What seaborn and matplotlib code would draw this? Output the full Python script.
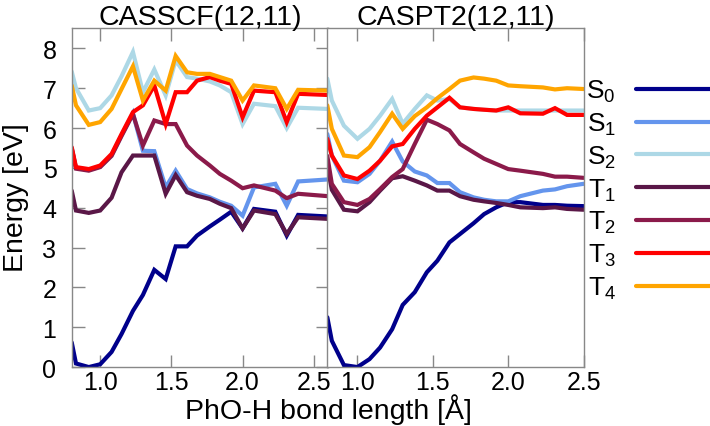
import numpy as np
import pandas as pd
import matplotlib
matplotlib.use("Agg")
import matplotlib.pyplot as plt
from matplotlib.lines import Line2D
import seaborn as sns

sns.set_style("ticks")
plt.rcParams['font.family'] = ['Liberation Sans', 'DejaVu Sans']
plt.rcParams['mathtext.default'] = 'regular'
plt.rcParams['text.color'] = 'black'

states = ['S0', 'S1', 'S2', 'T1', 'T2', 'T3', 'T4']
labels = ['S$_0$', 'S$_1$', 'S$_2$', 'T$_1$', 'T$_2$', 'T$_3$', 'T$_4$']
colors = ['#00008b', '#6495ed', '#add8e6', '#5a1747', '#8b1a4a', '#ff0000', '#ffa500']

# CASSCF(12,11) panel
r_scf = [0.80, 0.83, 0.92, 1.00, 1.08, 1.15, 1.23, 1.30, 1.38, 1.46, 1.53,
         1.61, 1.68, 1.77, 1.84, 1.92, 2.00, 2.08, 2.23, 2.31, 2.39, 2.60]
scf_S0 = [0.62, 0.09, 0.00, 0.07, 0.38, 0.83, 1.41, 1.81, 2.44, 2.21, 3.03,
          3.03, 3.30, 3.53, 3.70, 3.90, 3.48, 3.97, 3.90, 3.30, 3.82, 3.78]
scf_S1 = [5.50, 5.00, 4.95, 5.03, 5.32, 5.82, 6.37, 5.43, 5.42, 4.51, 4.93,
          4.47, 4.36, 4.26, 4.15, 4.05, 3.80, 4.51, 4.60, 4.05, 4.66, 4.71]
scf_S2 = [7.42, 7.00, 6.44, 6.50, 6.82, 7.30, 7.91, 6.90, 7.47, 6.82, 7.70,
          7.28, 7.24, 7.17, 7.07, 6.90, 6.10, 6.61, 6.55, 6.00, 6.51, 6.48]
scf_T1 = [4.43, 3.93, 3.87, 3.93, 4.25, 4.89, 5.31, 5.31, 5.31, 4.35, 4.82,
          4.39, 4.30, 4.22, 4.10, 3.99, 3.48, 3.93, 3.84, 3.34, 3.76, 3.72]
scf_T2 = [5.48, 4.98, 4.93, 5.02, 5.30, 5.80, 6.35, 5.56, 6.19, 6.10, 6.10,
          5.56, 5.31, 5.06, 4.85, 4.68, 4.49, 4.56, 4.43, 4.24, 4.35, 4.29]
scf_T3 = [5.52, 5.02, 4.97, 5.06, 5.35, 5.85, 6.40, 6.57, 7.07, 6.10, 6.90,
          6.90, 7.19, 7.28, 7.19, 7.11, 6.27, 6.94, 6.90, 6.15, 6.86, 6.83]
scf_T4 = [7.07, 6.57, 6.08, 6.15, 6.48, 6.98, 7.55, 6.69, 7.19, 6.94, 7.81,
          7.40, 7.36, 7.36, 7.28, 7.19, 6.69, 7.07, 7.00, 6.48, 6.96, 6.94]

# CASPT2(12,11) panel
r_pt2 = [0.80, 0.83, 0.91, 1.00, 1.08, 1.15, 1.23, 1.30, 1.38, 1.46, 1.53,
         1.61, 1.68, 1.77, 1.84, 1.92, 2.00, 2.08, 2.23, 2.31, 2.39, 2.50]
pt2_S0 = [1.25, 0.66, 0.05, 0.00, 0.20, 0.49, 0.95, 1.56, 1.88, 2.38, 2.67,
          3.13, 3.34, 3.61, 3.84, 4.01, 4.14, 4.14, 4.07, 4.07, 4.05, 4.04]
pt2_S1 = [5.85, 5.31, 4.68, 4.64, 4.85, 5.18, 5.66, 5.16, 4.91, 4.81, 4.62,
          4.62, 4.39, 4.26, 4.20, 4.16, 4.16, 4.29, 4.43, 4.46, 4.54, 4.60]
pt2_S2 = [7.24, 6.69, 6.06, 5.73, 5.98, 6.31, 6.73, 6.11, 6.48, 6.82, 6.69,
          6.73, 6.52, 6.48, 6.46, 6.44, 6.44, 6.44, 6.44, 6.44, 6.44, 6.44]
pt2_T1 = [5.05, 4.45, 3.95, 3.91, 4.14, 4.43, 4.74, 4.79, 4.68, 4.56, 4.43,
          4.43, 4.29, 4.20, 4.16, 4.12, 4.07, 4.01, 3.99, 4.01, 3.97, 3.95]
pt2_T2 = [5.30, 4.60, 4.14, 4.07, 4.22, 4.47, 4.77, 4.97, 5.60, 6.21, 6.10,
          5.94, 5.60, 5.39, 5.23, 5.10, 4.97, 4.93, 4.85, 4.78, 4.78, 4.75]
pt2_T3 = [5.73, 5.31, 4.81, 4.72, 4.93, 5.18, 5.54, 5.60, 5.98, 6.31, 6.52,
          6.76, 6.52, 6.48, 6.46, 6.44, 6.52, 6.37, 6.36, 6.50, 6.33, 6.33]
pt2_T4 = [6.57, 5.98, 5.31, 5.27, 5.52, 5.90, 6.36, 5.98, 6.30, 6.52, 6.75,
          6.98, 7.19, 7.27, 7.24, 7.19, 7.07, 7.05, 7.02, 6.97, 7.00, 6.98]


def long_df(r, series):
    frames = []
    for name, vals in zip(states, series):
        frames.append(pd.DataFrame({'r': r, 'E': vals, 'state': name}))
    return pd.concat(frames, ignore_index=True)


df_scf = long_df(r_scf, [scf_S0, scf_S1, scf_S2, scf_T1, scf_T2, scf_T3, scf_T4])
df_pt2 = long_df(r_pt2, [pt2_S0, pt2_S1, pt2_S2, pt2_T1, pt2_T2, pt2_T3, pt2_T4])

fig = plt.figure(figsize=(7.1, 4.27), dpi=100)
ax1 = fig.add_axes([0.101, 0.138, 0.361, 0.793])
ax2 = fig.add_axes([0.461, 0.138, 0.361, 0.793])

pal = dict(zip(states, colors))
for ax, df, title, xmax in [(ax1, df_scf, 'CASSCF(12,11)', 2.6),
                            (ax2, df_pt2, 'CASPT2(12,11)', 2.5)]:
    sns.lineplot(data=df, x='r', y='E', hue='state', hue_order=states,
                 palette=pal, ax=ax, legend=False, linewidth=3,
                 solid_joinstyle='miter', sort=False, estimator=None)
    ax.set_xlim(0.8, xmax)
    ax.set_ylim(0, 8.5)
    ax.set_xticks([1.0, 1.5, 2.0, 2.5])
    ax.set_xlabel('')
    ax.set_ylabel('')
    ax.set_title(title, fontsize=20.5, pad=3, color='black')
    for s in ax.spines.values():
        s.set_color('#888888')
        s.set_linewidth(1)
    ax.tick_params(axis='x', direction='in', top=True, length=9, width=1,
                   color='#888888', labelcolor='black', labelsize=18, pad=2)

ax1.set_yticks(range(9))
ax1.tick_params(axis='y', direction='in', right=True, length=9, width=1,
                color='#888888', labelcolor='black', labelsize=18, pad=11)
ax2.tick_params(axis='y', left=False, right=False, labelleft=False)

fig.text(0.462, 1 - 410 / 427, 'PhO-H bond length [Å]', ha='center', va='center', fontsize=20.5)
fig.text(0.022, 1 - 198 / 427, 'Energy [eV]', ha='center', va='center', rotation=90, fontsize=20.5)

handles = [Line2D([0], [0], color=c, lw=3) for c in colors]
fig.legend(handles, labels, loc='upper left', bbox_to_anchor=(0.826, 0.815),
           frameon=False, markerfirst=False, fontsize=19, handlelength=3.0,
           handletextpad=0.75, labelspacing=0.25, borderpad=0, borderaxespad=0,
           labelcolor='black')

fig.savefig('out.png', dpi=100)
